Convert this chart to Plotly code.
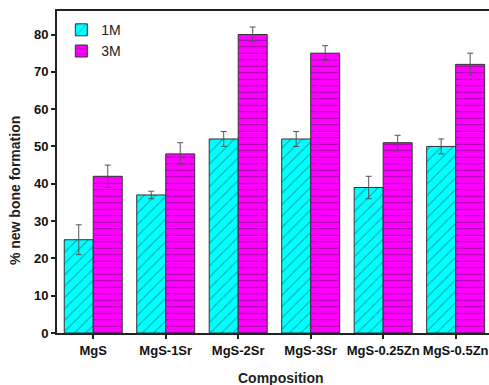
import plotly.graph_objects as go

categories = ["MgS", "MgS-1Sr", "MgS-2Sr", "MgS-3Sr", "MgS-0.25Zn", "MgS-0.5Zn"]
values_1m = [25, 37, 52, 52, 39, 50]
errors_1m = [4, 1, 2, 2, 3, 2]
values_3m = [42, 48, 80, 75, 51, 72]
errors_3m = [3, 3, 2, 2, 2, 3]
y_ticks = [0, 10, 20, 30, 40, 50, 60, 70, 80]

fig = go.Figure()
fig.add_trace(go.Bar(
    name="1M", x=categories, y=values_1m,
    marker=dict(color="#00FFFF", line=dict(color="#333333", width=1),
                pattern=dict(shape="/", fgcolor="#1a3a3a", bgcolor="#00FFFF", size=8, solidity=0.12)),
    error_y=dict(type="data", array=errors_1m, color="#555555", thickness=1, width=3),
))
fig.add_trace(go.Bar(
    name="3M", x=categories, y=values_3m,
    marker=dict(color="#FF00FF", line=dict(color="#333333", width=1),
                pattern=dict(shape="-", fgcolor="#3a103a", bgcolor="#FF00FF", size=6.5, solidity=0.15)),
    error_y=dict(type="data", array=errors_3m, color="#555555", thickness=1, width=3),
))

fig.update_layout(
    width=489, height=385,
    margin=dict(l=57, r=0, t=11, b=52),
    plot_bgcolor="white", paper_bgcolor="white",
    barmode="group", bargap=0.2, bargroupgap=0,
    font=dict(family="Arial, Liberation Sans, sans-serif", color="#111111"),
    showlegend=True,
    legend=dict(x=0.01, y=0.99, xanchor="left", yanchor="top", bgcolor="rgba(0,0,0,0)",
                font=dict(size=14, color="#222222"), tracegroupgap=0),
    xaxis=dict(range=[-0.5, 5.46], showline=True, linecolor="#222222", linewidth=2, mirror=True,
               ticks="outside", ticklen=4, tickwidth=1.5, tickcolor="#222222",
               tickfont=dict(size=13, weight="bold"),
               showgrid=False, zeroline=False),
    yaxis=dict(range=[0, 86.3], showline=True, linecolor="#222222", linewidth=2, mirror=False,
               ticks="outside", ticklen=4, tickwidth=1.5, tickcolor="#222222",
               tickvals=y_ticks, tickfont=dict(size=13, weight="bold"),
               showgrid=False, zeroline=False),
    annotations=[
        dict(text="<b>Composition</b>", xref="paper", yref="paper", x=0.518, y=-0.14,
             xanchor="center", yanchor="middle", showarrow=False, font=dict(size=14, color="#222222")),
        dict(text="<b>% new bone formation</b>", xref="paper", yref="paper", x=-0.097, y=0.441,
             xanchor="center", yanchor="middle", textangle=-90, showarrow=False,
             font=dict(size=14, color="#222222")),
    ],
)

fig.write_html("out.html")
